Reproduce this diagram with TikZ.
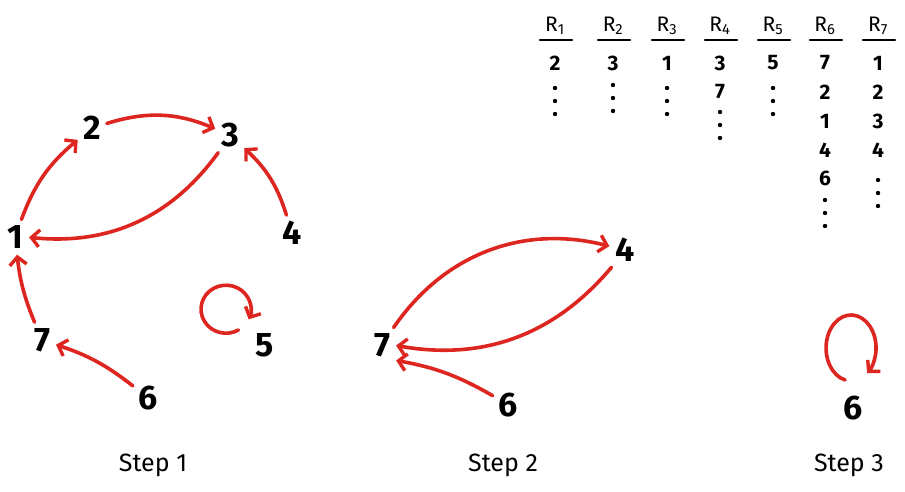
\documentclass[tikz,border=0pt]{standalone}
\usepackage{fontspec}
\setmainfont{Fira Sans}
\usetikzlibrary{arrows.meta,positioning}
\definecolor{penred}{RGB}{222,38,32}
\tikzset{
  num/.style={font=\fontsize{34}{34}\selectfont\bfseries, inner sep=3pt},
  redarr/.style={draw=penred, line width=3.6pt, line cap=round,
    -{Straight Barb[length=8pt,width=17pt,line width=3.4pt]}, shorten >=3pt, shorten <=3pt},
  steplabel/.style={font=\fontsize{25}{25}\selectfont},
  rhead/.style={font=\fontsize{21}{21}\selectfont, inner sep=1pt},
  rentry/.style={font=\fontsize{21}{21}\selectfont\bfseries, inner sep=1pt},
  rule/.style={line width=2.6pt, line cap=round}
}
\begin{document}
\begin{tikzpicture}[x=1pt,y=1pt]
  \useasboundingbox (0,0) rectangle (905,491);
  % step 1
  \node[num] (s1n1) at (15,254) {1};
  \node[num] (s1n2) at (92,363) {2};
  \node[num] (s1n3) at (230,356) {3};
  \node[num] (s1n4) at (292,258) {4};
  \node[num] (s1n5) at (265,146) {5};
  \node[num] (s1n6) at (148,93) {6};
  \node[num] (s1n7) at (42,151) {7};
  \draw[redarr] (s1n2) to[bend left=20] (s1n3);
  \draw[redarr] (s1n1) to[bend left=15] (s1n2);
  \draw[redarr] (s1n3) to[bend left=30] (s1n1.east);
  \draw[redarr] (s1n4) to[bend right=15] (s1n3);
  \draw[redarr] (s1n7) to[bend left=8] (s1n1);
  \draw[redarr] (s1n6) to[bend right=10] (s1n7);
  \coordinate (s1loop) at (238.5,161);
  \draw[redarr, shorten <=0pt, shorten >=0pt] (s1loop) arc[start angle=-60, end angle=-385, x radius=25, y radius=24];
  % step 2
  \node[num] (s2n4) at (625,241) {4};
  \node[num] (s2n6) at (508,86) {6};
  \node[num] (s2n7) at (382,146) {7};
  \draw[redarr] (s2n7) to[bend left=35] (s2n4);
  \draw[redarr] (s2n4) to[bend left=30] (s2n7.east);
  \draw[redarr] (s2n6) to[bend right=10] (s2n7.south east);
  % step 3
  \node[num] (s3n6) at (853,83) {6};
  \coordinate (s3loop) at (845,111);
  \draw[redarr, shorten <=0pt, shorten >=0pt] (s3loop) arc[start angle=256, end angle=-50, x radius=25, y radius=33];
  % table
  \foreach \i/\x in {1/555,2/613,3/667,4/720,5/773,6/825,7/878}{
    \node[rhead] (r\i) at (\x,465) {R\textsubscript{\i}};
    \draw[rule] (\x-15,451) -- (\x+17,451);
  }
  \node[rentry] (r1a) at (555,428) {2};
  \node[rentry] (r2a) at (613,428) {3};
  \node[rentry] (r3a) at (667,428) {1};
  \node[rentry] (r4a) at (720,428) {3};
  \node[rentry] (r4b) at (720,399) {7};
  \node[rentry] (r5a) at (773,428) {5};
  \node[rentry] (r6a) at (825,428) {7};
  \node[rentry] (r6b) at (825,399) {2};
  \node[rentry] (r6c) at (825,370) {1};
  \node[rentry] (r6d) at (825,341) {4};
  \node[rentry] (r6e) at (825,313) {6};
  \node[rentry] (r7a) at (878,428) {1};
  \node[rentry] (r7b) at (878,399) {2};
  \node[rentry] (r7c) at (878,370) {3};
  \node[rentry] (r7d) at (878,341) {4};
  % dots under each column
  \foreach \x/\y in {555/403,613/406,667/403,720/379,773/403,825/291,878/311}
    \foreach \k in {0,1,2}
      \fill (\x,\y-13*\k) circle(2.2);
  % labels
  \node[steplabel] (lab1) at (153,26) {Step 1};
  \node[steplabel] (lab2) at (503,26) {Step 2};
  \node[steplabel] (lab3) at (849,26) {Step 3};
\end{tikzpicture}
\end{document}
